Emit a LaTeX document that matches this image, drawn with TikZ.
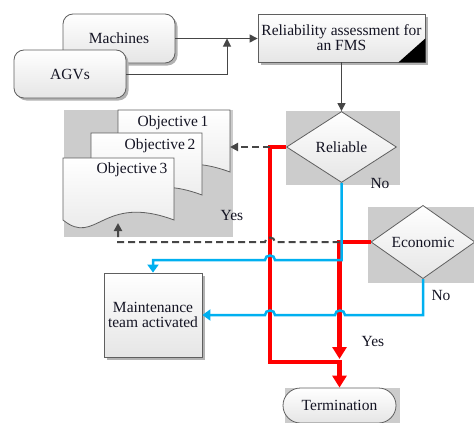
\documentclass[tikz,border=0pt]{standalone}
\usepackage{fontspec}
\setmainfont{Liberation Serif}
\newfontfamily\diagfont{Liberation Serif}
\usetikzlibrary{shapes.geometric,shapes.misc,arrows.meta,shadows}
\definecolor{bggray}{RGB}{204,204,204}
\definecolor{edge}{RGB}{95,95,95}
\definecolor{ln}{RGB}{70,70,70}
\definecolor{skyb}{RGB}{0,176,240}
\definecolor{txt}{RGB}{20,20,35}
\begin{document}
\begin{tikzpicture}[x=1pt,y=-1pt,
  every node/.style={font=\diagfont\fontsize{15.5}{15}\selectfont, text=txt},
  box/.style={draw=edge, line width=0.8pt, top color=white, bottom color=black!10, inner sep=0pt, align=center},
  shad/.style={drop shadow={shadow xshift=2.5pt, shadow yshift=-2.5pt, fill=black!30, opacity=1}},
  thinln/.style={draw=ln, line width=1pt},
  thintip/.style={-{Triangle[length=8pt,width=8pt]}},
  redl/.style={draw=red, line width=4.5pt},
  redtip/.style={-{Triangle[length=12pt,width=14pt]}},
  bluel/.style={draw=skyb, line width=2.5pt},
  bluetip/.style={-{Triangle[length=8pt,width=11pt]}},
  dashl/.style={draw=ln, line width=2pt, dash pattern=on 7pt off 4pt},
  dashtip/.style={-{Triangle[length=8pt,width=8pt]}},
  lbl/.style={inner sep=0pt}
]
\useasboundingbox (0,0) rectangle (474,423);

% gray backgrounds
\fill[bggray] (286,111) rectangle (400,185);
\fill[bggray] (64,110) rectangle (233,237);
\fill[bggray] (368,207) rectangle (476,283);
\fill[bggray] (285,388) rectangle (400,425);

% input boxes
\node[box, shad, rounded corners=10pt, minimum width=112pt, minimum height=49pt] (mach) at (119,38.5) {Machines};
\node[box, shad, rounded corners=10pt, minimum width=112pt, minimum height=48pt] (agv) at (70,74) {AGVs};

% reliability assessment
\node[box, shad, minimum width=167pt, minimum height=48pt] (rel) at (341.5,38) {Reliability assessment for\\an FMS};
\fill[black] (rel.south east) -- ++(-27,0) -- ++(27,-24) -- cycle;

% decisions
\node[box, diamond, minimum width=110pt, minimum height=71pt] (reliable) at (341.5,147) {Reliable};
\node[box, diamond, minimum width=104pt, minimum height=70pt] (econ) at (423,242) {Economic};

% objectives (document shapes)
\draw[box] (118,110) -- (230,110) -- (230,172) .. controls (157.2,145) and (151.6,199) .. (118,172) -- cycle;
\draw[box] (91,133) -- (202,133) -- (202,195) .. controls (129.85,168) and (124.3,222) .. (91,195) -- cycle;
\draw[box] (63,158) -- (174,158) -- (174,220) .. controls (101.85,193) and (96.3,247) .. (63,220) -- cycle;
\node (o1) at (173,123) {Objective\,1};
\node (o2) at (160,146) {Objective\,2};
\node (o3) at (132,170) {Objective\,3};
\coordinate (o1r) at (230,147);
\coordinate (o3b) at (118,223);

% maintenance and termination
\node[box, shad, minimum width=98pt, minimum height=84pt] (mt) at (153,315) {Maintenance\\team activated};
\node[box, rounded rectangle, minimum width=113pt, minimum height=35pt] (term) at (339.5,405.5) {Termination};

% thin connectors
\coordinate (j1) at (227,38.5);
\draw[thinln, thintip] (mach.east) -- (mach.east -| rel.west);
\draw[thinln, thintip] (agv.east) -| (j1);
\draw[thinln, thintip] (rel.south) -- (reliable.north);

% red paths
\draw[redl, redtip] (reliable.west) -| (270,362) -- (339.5,362) -- (term.north);
\draw[redl, redtip] (econ.west) -| (339.5,359);

% dashed paths
\coordinate (rj1) at (270,147);
\coordinate (rj2) at (339.5,242);
\draw[dashl, dashtip] (rj1) -- (o1r);
\draw[dashl, dashtip] (rj2) -- (275,242) .. controls (275,236) and (265,236) .. (265,242) -- (118,242) -- (o3b);

% blue paths
\draw[bluel, bluetip] (reliable.south) -- (341.5,260) -- (275,260) .. controls (275,254) and (265,254) .. (265,260) -- (153,260) -- (mt.north);
\draw[bluel, bluetip] (econ.south) -- (423,315) -- (345,315) .. controls (345,309) and (335,309) .. (335,315) -- (275,315) .. controls (275,309) and (265,309) .. (265,315) -- (mt.east);

% labels
\node[lbl] (no1) at (380,183) {No};
\node[lbl] (yes1) at (232,215) {Yes};
\node[lbl] (no2) at (441,295) {No};
\node[lbl] (yes2) at (373,341) {Yes};
\end{tikzpicture}
\end{document}
